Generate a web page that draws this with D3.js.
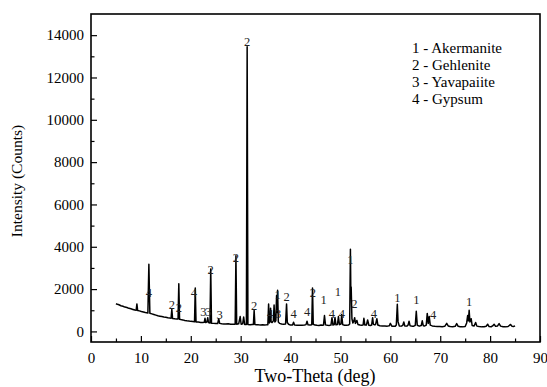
<!DOCTYPE html>
<html><head><meta charset="utf-8">
<script src="https://cdn.jsdelivr.net/npm/d3@7"></script>
<style>body{margin:0;background:#fff}svg{display:block}</style>
</head><body>
<svg id="chart" width="547" height="387"></svg>
<script>
// ---- data ----
const xTicks = [0,10,20,30,40,50,60,70,80,90];
const xMinorTicks = [5,15,25,35,45,55,65,75,85];
const yTicks = [0,2000,4000,6000,8000,10000,12000,14000];
const yMinorTicks = [1000,3000,5000,7000,9000,11000,13000];
const legendItems = ["1 - Akermanite","2 - Gehlenite","3 - Yavapaiite","4 - Gypsum"];
// [2-theta (deg), intensity (counts)]
const xrdPattern = [
[5.0,1310],[5.3,1280],[5.6,1260],[6.0,1215],[6.4,1190],[6.8,1150],[7.2,1130],[7.6,1090],[8.0,1070],[8.4,1040],[8.8,1010],[9.05,1000],[9.2,1300],[9.35,990],[9.7,970],[10.1,940],[10.5,915],[10.9,890],[11.4,870],[11.6,3170],[11.8,860],[12.2,830],[12.6,800],[13.0,770],[13.4,740],[13.8,720],[14.2,700],[14.6,680],[15.0,665],[15.4,645],[15.8,630],[16.05,625],[16.2,1050],[16.35,615],[16.8,600],[17.2,590],[17.45,585],[17.6,2250],[17.75,575],[18.0,560],[18.4,545],[18.8,520],[19.2,500],[19.6,490],[20.0,475],[20.4,465],[20.75,455],[20.9,2050],[21.05,450],[21.5,440],[22.0,425],[22.4,420],[22.7,430],[22.85,620],[23.0,420],[23.25,450],[23.4,650],[23.55,420],[23.85,395],[24.0,2950],[24.15,390],[24.6,380],[25.0,370],[25.4,375],[25.6,600],[25.8,380],[26.2,360],[26.6,355],[27.0,350],[27.5,360],[28.0,340],[28.5,335],[28.9,340],[29.05,3580],[29.2,340],[29.6,360],[29.9,700],[30.1,340],[30.4,360],[30.6,680],[30.8,330],[31.15,330],[31.3,13450],[31.45,330],[31.9,320],[32.3,330],[32.55,330],[32.7,1000],[32.85,330],[33.2,320],[33.6,310],[34.0,305],[34.4,310],[34.8,300],[35.2,310],[35.45,320],[35.6,1300],[35.75,400],[35.9,500],[36.0,1100],[36.1,450],[36.3,420],[36.55,500],[36.7,1250],[36.85,450],[37.05,500],[37.2,1700],[37.3,900],[37.4,1950],[37.55,450],[37.8,380],[38.2,350],[38.6,340],[39.0,350],[39.2,1300],[39.35,420],[39.6,340],[40.0,300],[40.4,300],[40.6,430],[40.8,300],[41.3,295],[41.8,290],[42.3,290],[42.8,300],[43.1,320],[43.3,480],[43.5,310],[43.9,300],[44.25,310],[44.4,2050],[44.55,340],[44.9,300],[45.3,290],[45.7,285],[46.1,300],[46.4,290],[46.6,300],[46.8,750],[47.0,310],[47.4,290],[47.8,285],[48.1,300],[48.3,650],[48.5,300],[48.75,320],[48.9,660],[49.1,310],[49.4,330],[49.6,700],[49.8,320],[50.1,350],[50.25,800],[50.45,320],[50.8,290],[51.2,290],[51.6,300],[51.85,350],[52.0,3880],[52.08,1800],[52.15,2100],[52.3,600],[52.5,400],[52.7,500],[52.85,650],[53.0,380],[53.3,520],[53.5,330],[53.9,300],[54.3,290],[54.55,310],[54.7,620],[54.9,300],[55.2,300],[55.45,540],[55.7,290],[56.0,280],[56.25,300],[56.45,650],[56.6,350],[56.85,310],[57.05,330],[57.3,600],[57.5,300],[57.9,270],[58.4,260],[58.9,260],[59.4,250],[59.8,270],[60.0,380],[60.3,250],[60.7,245],[61.0,250],[61.2,300],[61.4,1280],[61.55,450],[61.8,260],[62.2,250],[62.5,290],[62.7,450],[62.9,260],[63.3,250],[63.55,300],[63.75,480],[63.95,270],[64.3,250],[64.7,250],[65.0,290],[65.2,950],[65.4,290],[65.8,250],[66.2,280],[66.4,500],[66.6,270],[66.9,260],[67.2,300],[67.4,850],[67.6,380],[67.8,700],[68.0,300],[68.4,260],[68.9,240],[69.4,235],[69.9,230],[70.4,225],[70.9,240],[71.3,380],[71.6,260],[72.0,230],[72.5,225],[73.0,240],[73.3,370],[73.6,240],[74.0,220],[74.5,215],[75.0,230],[75.3,400],[75.5,750],[75.65,500],[75.8,1000],[75.95,450],[76.2,600],[76.4,280],[76.8,260],[77.1,420],[77.35,250],[77.8,230],[78.3,215],[78.8,220],[79.2,240],[79.5,340],[79.8,230],[80.2,220],[80.5,260],[80.8,340],[81.1,240],[81.5,260],[81.8,370],[82.1,250],[82.6,220],[83.1,215],[83.6,230],[84.1,330],[84.4,240],[84.7,230],[85.0,260]
];
// phase labels: [2-theta, intensity at label centre, text]
const peakLabels = [
[11.6,1810,"4"],[16.2,1230,"2"],[17.6,1130,"2"],[20.6,1810,"4"],[22.55,900,"3"],[23.55,900,"3"],
[24.0,2900,"2"],[25.8,780,"3"],[29.05,3450,"2"],[31.3,13660,"2"],[32.7,1180,"2"],
[35.9,840,"4"],[37.5,800,"3"],[37.4,1700,"1"],[39.2,1620,"2"],[40.6,840,"4"],[43.3,910,"4"],
[44.45,1810,"2"],[46.65,1470,"1"],[48.3,800,"4"],[49.5,1860,"1"],[50.3,800,"4"],
[52.0,3360,"1"],[52.8,1280,"2"],[56.7,840,"4"],[61.4,1560,"1"],[65.2,1470,"1"],[68.6,760,"4"],[75.8,1400,"1"]
];

// ---- chart ----
const svg = d3.select("#chart");
const L = 91, R = 540, T = 14, B = 342;
const x = d3.scaleLinear().domain([0,90]).range([L,R]);
const y = d3.scaleLinear().domain([-500,15000]).range([B,T]);
const font = "'Liberation Serif', Tinos, 'Times New Roman', Times, 'Nimbus Roman', 'DejaVu Serif', serif";

// pattern line
svg.append("path")
  .datum(xrdPattern)
  .attr("fill","none").attr("stroke","#000").attr("stroke-width",1.5)
  .attr("stroke-linejoin","round")
  .attr("d", d3.line().x(d=>x(d[0])).y(d=>y(d[1])));

// peak labels
svg.append("g").selectAll("text").data(peakLabels).join("text")
  .attr("x", d=>x(d[0])).attr("y", d=>y(d[1]))
  .attr("text-anchor","middle").attr("dominant-baseline","central")
  .style("font-family",font).attr("font-size",12.5).attr("fill","#222")
  .text(d=>d[2]);

// axes (ticks inward)
const gx = svg.append("g").attr("transform",`translate(0,${B})`)
  .call(d3.axisBottom(x).tickValues(xTicks).tickSize(-6).tickPadding(10).tickFormat(d3.format("d")));
const gxm = svg.append("g").attr("transform",`translate(0,${B})`)
  .call(d3.axisBottom(x).tickValues(xMinorTicks).tickSize(-3.5).tickFormat(""));
const gy = svg.append("g").attr("transform",`translate(${L},0)`)
  .call(d3.axisLeft(y).tickValues(yTicks).tickSize(-6).tickPadding(7).tickFormat(d3.format("d")));
const gym = svg.append("g").attr("transform",`translate(${L},0)`)
  .call(d3.axisLeft(y).tickValues(yMinorTicks).tickSize(-3.5).tickFormat(""));
[gx,gxm,gy,gym].forEach(g=>{
  g.attr("font-family",null);
  g.select(".domain").remove();
  g.selectAll(".tick line").attr("stroke","#000").attr("stroke-width",1.2);
  g.selectAll("text").style("font-family",font).attr("font-size",15).attr("fill","#000");
});

// frame
svg.append("rect").attr("x",L).attr("y",T).attr("width",R-L).attr("height",B-T)
  .attr("fill","none").attr("stroke","#000").attr("stroke-width",1.6);

// axis titles
svg.append("text").attr("x",315).attr("y",381.5).attr("text-anchor","middle")
  .style("font-family",font).attr("font-size",18).text("Two-Theta (deg)");
svg.append("text").attr("transform",`translate(22,181) rotate(-90)`).attr("text-anchor","middle")
  .style("font-family",font).attr("font-size",15.5).text("Intensity (Counts)");

// legend
svg.append("g").selectAll("text").data(legendItems).join("text")
  .attr("x",412).attr("y",(d,i)=>48+i*17).attr("dominant-baseline","central")
  .style("font-family",font).attr("font-size",15).attr("fill","#000")
  .text(d=>d);
</script>
</body></html>
